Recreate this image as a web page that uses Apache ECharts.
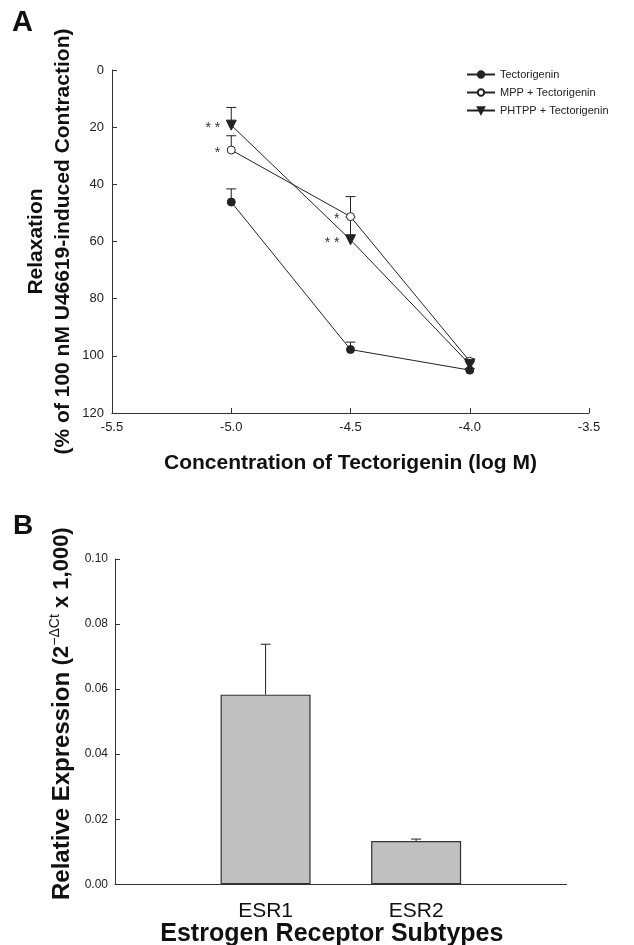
<!DOCTYPE html>
<html>
<head>
<meta charset="utf-8">
<script src="https://cdn.jsdelivr.net/npm/echarts@6/dist/echarts.min.js"></script>
<style>
  html, body { margin: 0; padding: 0; background: #fff; }
  #box { width: 634px; height: 945px; }
</style>
</head>
<body>
<div id="box"></div>
<script>
// panel A: concentration-response (log M)
const conc = [-5.0, -4.5, -4.0];
const tectMean = [46.2, 97.8, 105.0];
const tectSem = [4.6, 2.6, 0.5];
const mppMean = [28.0, 51.3, 101.9];
const mppSem = [5.0, 7.0, 0.9];
const phtppMean = [19.3, 59.4, 103.0];
const phtppSem = [6.2, 8.0, 1.0];
const seriesNames = ['Tectorigenin', 'MPP + Tectorigenin', 'PHTPP + Tectorigenin'];
// significance marks [x, y, text]
const marks = [[-5.0, 19.3, '* *'], [-5.0, 28.0, '*'], [-4.5, 51.3, '*'], [-4.5, 59.4, '* *']];
const xTicksA = [-5.5, -5.0, -4.5, -4.0, -3.5];
const yTicksA = [0, 20, 40, 60, 80, 100, 120];

// panel B: receptor expression
const subtypes = ['ESR1', 'ESR2'];
const exprMean = [0.0583, 0.0133];
const exprSem = [0.0155, 0.0006];

const FONT = '"Liberation Sans", Arial, sans-serif';
const INK = '#222';

const chart = echarts.init(document.getElementById('box'));

function pairs(xs, ys) { return xs.map((x, i) => [x, ys[i]]); }
function errData(xs, ys, es) { return xs.map((x, i) => [x, ys[i], es[i]]); }

// error bar: vertical line from mean toward visual top, with a cap
function errRender(dir) {
  return function (params, api) {
    const x = api.value(0), y = api.value(1), e = api.value(2);
    const p0 = api.coord([x, y]);
    const p1 = api.coord([x, y + dir * e]);
    const st = { stroke: INK, lineWidth: 1 };
    return {
      type: 'group',
      children: [
        { type: 'line', shape: { x1: p0[0], y1: p0[1], x2: p1[0], y2: p1[1] }, style: st },
        { type: 'line', shape: { x1: p1[0] - 5, y1: p1[1], x2: p1[0] + 5, y2: p1[1] }, style: st }
      ]
    };
  };
}

function lineSeries(name, ys, symbol, fill, size) {
  return {
    name: name,
    type: 'line',
    xAxisIndex: 0, yAxisIndex: 0,
    data: pairs(conc, ys),
    symbol: symbol,
    symbolSize: size,
    symbolRotate: symbol === 'triangle' ? 180 : 0,
    showAllSymbol: true,
    lineStyle: { color: INK, width: 1 },
    itemStyle: { color: fill, borderColor: INK, borderWidth: 1 },
    z: 3,
    animation: false
  };
}

function errSeries(ys, es, xi, yi, dir) {
  return {
    type: 'custom',
    xAxisIndex: xi, yAxisIndex: yi,
    data: xi === 0 ? errData(conc, ys, es) : errData([1, 2], ys, es),
    renderItem: errRender(dir),
    z: 2,
    silent: true,
    animation: false
  };
}

const axisLine = { onZero: false, lineStyle: { color: '#333', width: 1 } };

const option = {
  animation: false,
  textStyle: { fontFamily: FONT },
  graphic: [
    { type: 'text', left: 12, top: 8, style: { text: 'A', font: 'bold 29px ' + FONT, fill: '#111' } },
    { type: 'text', left: 13, top: 512, style: { text: 'B', font: 'bold 28px ' + FONT, fill: '#111' } }
  ],
  legend: {
    orient: 'vertical',
    left: 461, top: 64,
    itemWidth: 28, itemHeight: 8, itemGap: 7,
    data: seriesNames,
    textStyle: { fontSize: 11, color: INK, fontFamily: FONT }
  },
  grid: [
    { left: 112, top: 70, width: 477, height: 343, outerBoundsMode: 'none' },
    { left: 115, top: 559, width: 451.7, height: 325.3, outerBoundsMode: 'none' }
  ],
  xAxis: [
    {
      gridIndex: 0, type: 'value', position: 'bottom',
      min: xTicksA[0], max: xTicksA[xTicksA.length - 1], interval: 0.5,
      axisLine: axisLine,
      axisTick: { inside: true, length: 5, lineStyle: { color: '#333' } },
      splitLine: { show: false },
      axisLabel: { color: INK, fontSize: 13, margin: 8, formatter: v => v.toFixed(1) },
      name: 'Concentration of Tectorigenin (log M)',
      nameLocation: 'middle', nameGap: 40, nameMoveOverlap: false,
      nameTextStyle: { fontSize: 21, fontWeight: 'bold', color: '#111' }
    },
    {
      gridIndex: 1, type: 'value', position: 'bottom', min: 0, max: 3, interval: 1,
      axisLine: axisLine,
      axisTick: { show: false },
      splitLine: { show: false },
      axisLabel: {
        color: '#111', fontSize: 21, margin: 16,
        showMinLabel: false, showMaxLabel: false,
        formatter: v => subtypes[v - 1] || ''
      },
      name: 'Estrogen Receptor Subtypes',
      nameLocation: 'middle', nameGap: 37, nameMoveOverlap: false,
      nameTextStyle: { fontSize: 25, fontWeight: 'bold', color: '#111', padding: [0, 18, 0, 0] }
    }
  ],
  yAxis: [
    {
      gridIndex: 0, type: 'value', inverse: true,
      min: yTicksA[0], max: yTicksA[yTicksA.length - 1], interval: 20,
      axisLine: { show: true, onZero: false, lineStyle: { color: '#333', width: 1 } },
      axisTick: { show: true, inside: true, length: 5, lineStyle: { color: '#333' } },
      splitLine: { show: false },
      axisLabel: { color: INK, fontSize: 13, margin: 8 },
      name: 'Relaxation\n(% of 100 nM U46619-induced Contraction)',
      nameLocation: 'middle', nameGap: 35, nameRotate: 90, nameMoveOverlap: false,
      nameTextStyle: { fontSize: 21, fontWeight: 'bold', color: '#111', lineHeight: 27 }
    },
    {
      gridIndex: 1, type: 'value', min: 0, max: 0.1, interval: 0.02,
      axisLine: { show: true, onZero: false, lineStyle: { color: '#333', width: 1 } },
      axisTick: { show: true, inside: true, length: 5, lineStyle: { color: '#333' } },
      splitLine: { show: false },
      axisLabel: { color: INK, fontSize: 12, margin: 7, formatter: v => v.toFixed(2) },
      name: '{a|Relative Expression}  {b|(2}{s|\u2212\u0394Ct}{b| x 1,000)}',
      nameLocation: 'middle', nameGap: 39, nameRotate: 90, nameMoveOverlap: false,
      nameTextStyle: {
        padding: [0, 0, 0, 16],
        rich: {
          a: { fontSize: 24, fontWeight: 'bold', color: '#111', fontFamily: FONT, lineHeight: 28 },
          b: { fontSize: 22, fontWeight: 'bold', color: '#111', fontFamily: FONT, lineHeight: 28 },
          s: { fontSize: 14, color: '#111', fontFamily: FONT, lineHeight: 28, verticalAlign: 'top', padding: [0, 0, 10, 0] }
        }
      }
    }
  ],
  series: [
    errSeries(tectMean, tectSem, 0, 0, -1),
    errSeries(mppMean, mppSem, 0, 0, -1),
    errSeries(phtppMean, phtppSem, 0, 0, -1),
    lineSeries(seriesNames[0], tectMean, 'circle', INK, 8),
    lineSeries(seriesNames[1], mppMean, 'circle', '#fff', 8),
    lineSeries(seriesNames[2], phtppMean, 'triangle', INK, 10),
    {
      type: 'custom',
      xAxisIndex: 0, yAxisIndex: 0,
      data: marks,
      silent: true,
      z: 4,
      renderItem: function (params, api) {
        const p = api.coord([api.value(0), api.value(1)]);
        return {
          type: 'text',
          style: {
            x: p[0] - 11, y: p[1] + 3,
            text: marks[params.dataIndex][2],
            align: 'right', verticalAlign: 'middle',
            font: '14px ' + FONT, fill: '#333'
          }
        };
      }
    },
    {
      type: 'bar',
      xAxisIndex: 1, yAxisIndex: 1,
      data: pairs([1, 2], exprMean),
      barWidth: 90,
      itemStyle: { color: '#c0c0c0', borderColor: '#333', borderWidth: 1.2 },
      z: 2
    },
    errSeries(exprMean, exprSem, 1, 1, 1)
  ]
};

chart.setOption(option);
</script>
</body>
</html>
